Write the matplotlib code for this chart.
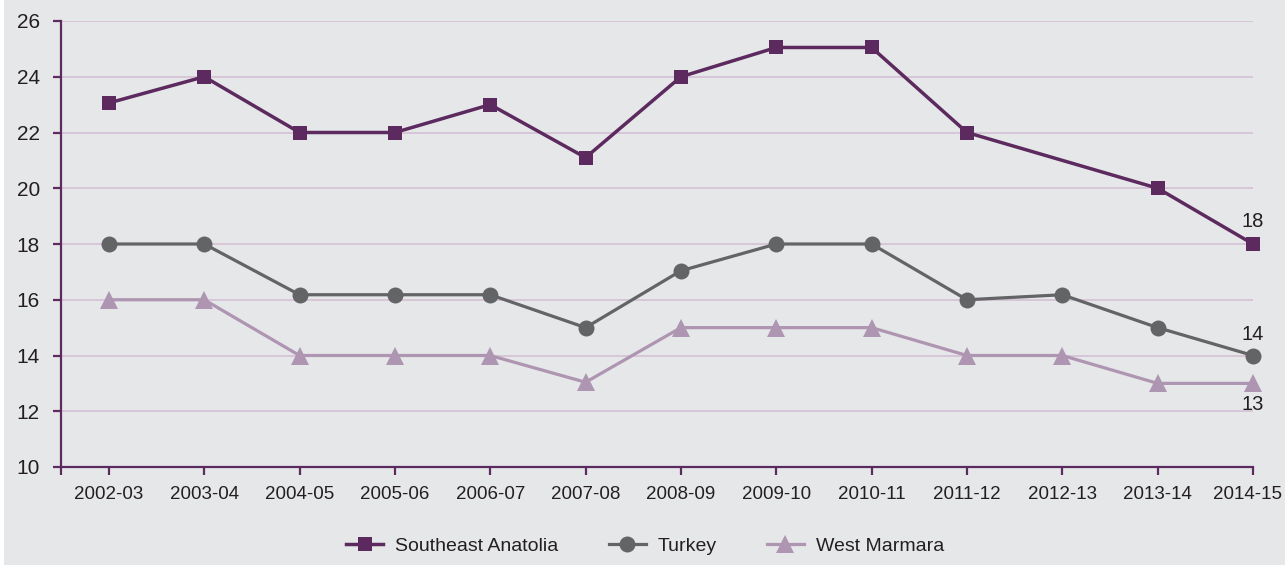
import numpy as np
import matplotlib
matplotlib.use("Agg")
import matplotlib.pyplot as plt
from matplotlib.patches import Rectangle
from matplotlib.transforms import ScaledTranslation

plt.rcParams['font.family'] = ['Liberation Sans', 'DejaVu Sans']

# School years on the category axis
periods = ["2002-03", "2003-04", "2004-05", "2005-06", "2006-07", "2007-08",
           "2008-09", "2009-10", "2010-11", "2011-12", "2012-13", "2013-14", "2014-15"]

# Series values (NaN = no observation for that year)
southeast_anatolia = [23.06, 24, 22, 22, 23, 21.1, 24, 25.05, 25.05, 22, np.nan, 20, 18]
turkey = [18, 18, 16.18, 16.18, 16.18, 15, 17.04, 18, 18, 16, 16.18, 15, 14]
west_marmara = [16, 16, 14, 14, 14, 13.04, 15, 15, 15, 14, 14, 13, 13]

series_names = ["Southeast Anatolia", "Turkey", "West Marmara"]
end_labels = [18, 14, 13]

y_ticks = [10, 12, 14, 16, 18, 20, 22, 24, 26]

BG = "#E6E7E9"
PURPLE = "#5C2A5E"
GREY = "#636466"
LILAC = "#AE95B1"
GRID = "#D7C6D8"
TEXT = "#231F20"

W, H = 1285, 565
fig = plt.figure(figsize=(W / 100, H / 100), dpi=100, facecolor=BG)
fig.patches.append(Rectangle((0, 0), 4 / W, 1, transform=fig.transFigure,
                             facecolor="white", edgecolor="none", zorder=-1))

ax = fig.add_axes([60.7 / W, 1 - 467 / H, (1253 - 60.7) / W, (467 - 21) / H])
ax.set_facecolor(BG)

x = np.arange(len(periods))
styles = [
    dict(color=PURPLE, marker="s", markersize=10, lw=2.5),
    dict(color=GREY, marker="o", markersize=11.5, lw=2.3),
    dict(color=LILAC, marker="^", markersize=13, lw=2.3),
]
data = [southeast_anatolia, turkey, west_marmara]

handles = []
for vals, name, st in zip(data, series_names, styles):
    y = np.asarray(vals, dtype=float)
    m = ~np.isnan(y)
    h, = ax.plot(x[m], y[m], color=st["color"], lw=st["lw"], marker=st["marker"],
                 markersize=st["markersize"], markeredgewidth=0, label=name,
                 solid_joinstyle="miter", zorder=3, clip_on=False)
    handles.append(h)

# Value labels at the last year
offsets = [(0, 16), (0, 15), (0, -15)]
for vals, lab, off in zip(data, end_labels, offsets):
    ax.annotate(str(lab), (x[-1], vals[-1]), xytext=off, textcoords="offset points",
                ha="center", va="center", fontsize=14.5, color=TEXT)

ax.set_xlim(-0.505, 12)
ax.set_ylim(10, 26)

ax.set_yticks(y_ticks)
ax.set_yticklabels([str(v) for v in y_ticks])
ax.set_xticks([-0.505] + list(x))
ax.set_xticklabels([""] + periods)

for v in y_ticks[1:]:
    ax.axhline(v, color=GRID, lw=1.4, zorder=1)

for s in ["top", "right"]:
    ax.spines[s].set_visible(False)
for s in ["left", "bottom"]:
    ax.spines[s].set_color(PURPLE)
    ax.spines[s].set_linewidth(1.6)
    ax.spines[s].set_zorder(4)

ax.tick_params(axis="y", direction="out", length=6, width=1.6, color=PURPLE,
               labelsize=15, labelcolor=TEXT, pad=9)
ax.tick_params(axis="x", direction="out", length=5.5, width=1.6, color=PURPLE,
               labelsize=13.5, labelcolor=TEXT, pad=8)

# keep the last year label inside the canvas
last = ax.get_xticklabels()[-1]
last.set_transform(last.get_transform() + ScaledTranslation(-5 / 100, 0, fig.dpi_scale_trans))

fig.legend(handles=handles, labels=series_names, loc="center",
           bbox_to_anchor=(0.502, 1 - 546 / H), ncol=3, frameon=False,
           fontsize=14, handlelength=1.9, handletextpad=0.6, columnspacing=2.6,
           labelcolor=TEXT)

fig.savefig("out.png", dpi=100, facecolor=BG)
